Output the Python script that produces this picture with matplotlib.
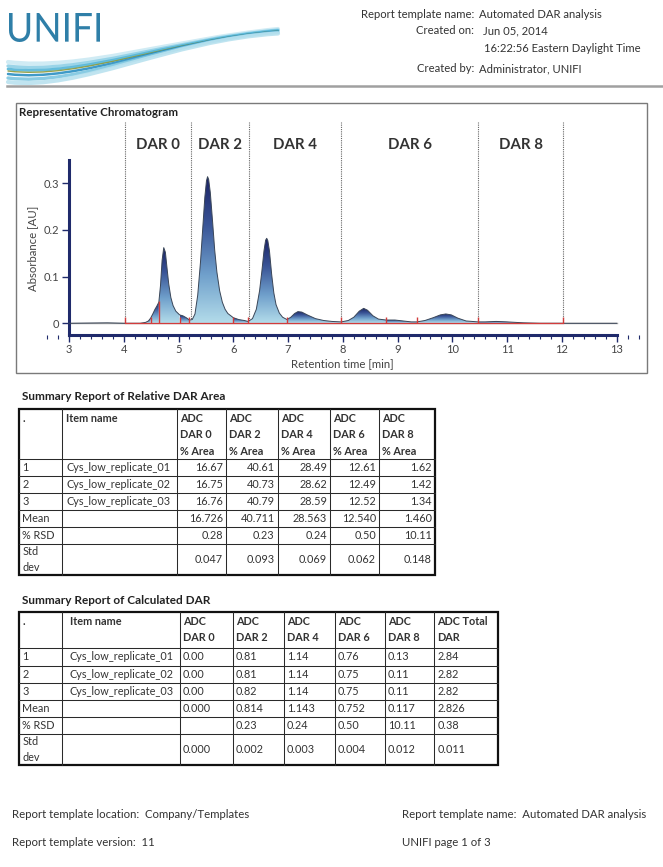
import numpy as np
import matplotlib.pyplot as plt
from matplotlib.colors import LinearSegmentedColormap
from matplotlib.patches import Rectangle, PathPatch, Polygon
from matplotlib.path import Path
from matplotlib.textpath import TextPath
from matplotlib.font_manager import FontProperties
from matplotlib.transforms import Affine2D
from matplotlib.ticker import MultipleLocator

plt.rcParams['font.family'] = ['Lato', 'DejaVu Sans']

W, H = 663, 867

# chromatogram trace (min, AU)
rt = [3.00, 3.70, 4.02, 4.30, 4.40, 4.45, 4.49, 4.53, 4.57, 4.60, 4.64, 4.67, 4.70, 4.73,
      4.76, 4.79, 4.82, 4.86, 4.90, 4.95, 5.02, 5.08, 5.14, 5.20, 5.25, 5.30, 5.35, 5.40,
      5.44, 5.48, 5.51, 5.53, 5.55, 5.58, 5.62, 5.66, 5.70, 5.75, 5.80, 5.85, 5.90, 6.00,
      6.10, 6.20, 6.27, 6.35, 6.42, 6.48, 6.52, 6.56, 6.59, 6.61, 6.63, 6.66, 6.70, 6.74,
      6.78, 6.84, 6.90, 6.98, 7.05, 7.12, 7.18, 7.25, 7.35, 7.50, 7.65, 7.80, 7.97, 8.10,
      8.20, 8.30, 8.38, 8.45, 8.55, 8.65, 8.79, 8.95, 9.10, 9.25, 9.35, 9.50, 9.65, 9.78,
      9.88, 9.98, 10.10, 10.25, 10.47, 10.60, 10.80, 11.00, 11.30, 11.60, 12.02, 13.00]
absorb = [0.000, 0.001, 0.000, 0.000, 0.002, 0.005, 0.011, 0.020, 0.030, 0.036, 0.045, 0.080,
          0.135, 0.162, 0.152, 0.118, 0.085, 0.055, 0.038, 0.026, 0.018, 0.016, 0.012, 0.007,
          0.008, 0.020, 0.060, 0.130, 0.200, 0.270, 0.305, 0.314, 0.308, 0.280, 0.220, 0.157,
          0.110, 0.070, 0.045, 0.030, 0.021, 0.012, 0.008, 0.006, 0.004, 0.010, 0.030, 0.070,
          0.110, 0.155, 0.178, 0.182, 0.177, 0.155, 0.105, 0.065, 0.040, 0.022, 0.013, 0.008,
          0.013, 0.021, 0.025, 0.024, 0.018, 0.010, 0.006, 0.004, 0.003, 0.006, 0.013, 0.026,
          0.032, 0.028, 0.016, 0.009, 0.007, 0.007, 0.005, 0.003, 0.003, 0.006, 0.012, 0.018,
          0.020, 0.018, 0.011, 0.005, 0.003, 0.003, 0.004, 0.003, 0.001, 0.000, 0.000, 0.000]

# integration marks (red) and their heights
cut_rt = [4.02, 4.49, 4.64, 5.02, 5.20, 6.00, 6.27, 6.98, 7.97, 8.79, 9.35, 10.47, 12.02]
cut_h = [0.013, 0.013, 0.048, 0.014, 0.014, 0.014, 0.013, 0.014, 0.013, 0.014, 0.013, 0.013, 0.013]

# DAR windows
dar_bounds = [4.02, 5.22, 6.28, 7.97, 10.47, 12.02]
dar_labels = ['DAR 0', 'DAR 2', 'DAR 4', 'DAR 6', 'DAR 8']

# table 1: relative DAR area
row_labels = ['1', '2', '3', 'Mean', '% RSD', 'Std\ndev']
item_names = ['Cys_low_replicate_01', 'Cys_low_replicate_02', 'Cys_low_replicate_03']
area_headers = ['ADC\nDAR 0\n% Area', 'ADC\nDAR 2\n% Area', 'ADC\nDAR 4\n% Area',
                'ADC\nDAR 6\n% Area', 'ADC\nDAR 8\n% Area']
area_dar0 = ['16.67', '16.75', '16.76', '16.726', '0.28', '0.047']
area_dar2 = ['40.61', '40.73', '40.79', '40.711', '0.23', '0.093']
area_dar4 = ['28.49', '28.62', '28.59', '28.563', '0.24', '0.069']
area_dar6 = ['12.61', '12.49', '12.52', '12.540', '0.50', '0.062']
area_dar8 = ['1.62', '1.42', '1.34', '1.460', '10.11', '0.148']

# table 2: calculated DAR
calc_headers = ['ADC\nDAR 0', 'ADC\nDAR 2', 'ADC\nDAR 4', 'ADC\nDAR 6', 'ADC\nDAR 8',
                'ADC Total\nDAR']
calc_dar0 = ['0.00', '0.00', '0.00', '0.000', '', '0.000']
calc_dar2 = ['0.81', '0.81', '0.82', '0.814', '0.23', '0.002']
calc_dar4 = ['1.14', '1.14', '1.14', '1.143', '0.24', '0.003']
calc_dar6 = ['0.76', '0.75', '0.75', '0.752', '0.50', '0.004']
calc_dar8 = ['0.13', '0.11', '0.11', '0.117', '10.11', '0.012']
calc_total = ['2.84', '2.82', '2.82', '2.826', '0.38', '0.011']

txt = '#333333'
navy = '#1f2a6b'
fs = 7.8

fig = plt.figure(figsize=(W / 100, H / 100), dpi=100)
bg = fig.add_axes([0, 0, 1, 1])
bg.set_xlim(0, W)
bg.set_ylim(H, 0)
bg.axis('off')

# ---- header: logo and report info
fp = FontProperties(family='Lato')
tp = TextPath((0, 0), 'UNIFI', size=100, prop=fp)
bb = tp.get_extents()
sx = (100 - 9) / bb.width
sy = (42 - 13) / bb.height
tr = Affine2D().translate(-bb.x0, -bb.y0).scale(sx, -sy).translate(9, 42)
bg.add_patch(PathPatch(tr.transform_path(tp), fc='#2f7fa8', ec='none'))

swoosh = [('#cbe9f3', 62, 29, 3.0), ('#8fd0e6', 66, 30, 2.4), ('#55b6d8', 69, 30.5, 2.0),
          ('#8c9a3c', 71, 31, 1.0), ('#2a8fc2', 74, 31.5, 1.8), ('#7cc6e0', 78, 32.5, 2.4),
          ('#b9e2ef', 82, 33.5, 3.0)]
for col, y0, y1, lw in swoosh:
    p = Path([(8, y0), (80, y0 + 9), (170, 40), (278, y1)],
             [Path.MOVETO, Path.CURVE4, Path.CURVE4, Path.CURVE4])
    bg.add_patch(PathPatch(p, fc='none', ec=col, lw=lw, alpha=0.9, capstyle='round'))

hdr = [('Report template name:', 'Automated DAR analysis', 15, 479),
       ('Created on:', 'Jun 05, 2014', 31, 483),
       ('', '16:22:56 Eastern Daylight Time', 49, 484),
       ('Created by:', 'Administrator, UNIFI', 69, 479)]
for lab, val, y, xv in hdr:
    bg.text(474, y, lab, ha='right', va='center', fontsize=8.1, color=txt)
    bg.text(xv, y, val, ha='left', va='center', fontsize=8.1, color=txt)
bg.plot([7, W], [86, 86], color='#a0a0a0', lw=1.8)

# ---- chromatogram
bg.add_patch(Rectangle((16, 103), 631, 270, fill=False, ec='#7a7a7a', lw=1.0))
bg.text(19, 112, 'Representative Chromatogram', fontsize=8.3, fontweight='bold',
        ha='left', va='center', color='#222222')

L, R, T, B = 40, 640, 115, 352
px_min = (616.7 - 69) / 10
px_au = 467
ax = fig.add_axes([L / W, 1 - B / H, (R - L) / W, (B - T) / H])
ax.set_facecolor('none')

rt_a = np.array(rt)
ab_a = np.array(absorb)
cmap = LinearSegmentedColormap.from_list('peak', ['#b3dcea', '#6f9fcb', '#3a5597', '#1a2163'])
grad = np.linspace(0, 1, 256).reshape(-1, 1)
for a, b in zip(cut_rt[:-1], cut_rt[1:]):
    m = (rt_a >= a) & (rt_a <= b)
    ts, ys = rt_a[m], ab_a[m]
    top = ys.max()
    if top <= 0:
        continue
    poly = Polygon([(a, 0)] + list(zip(ts, ys)) + [(b, 0)], closed=True,
                   fc='none', ec='none')
    ax.add_patch(poly)
    im = ax.imshow(grad, extent=[a, b, 0, top], origin='lower', aspect='auto',
                   cmap=cmap, interpolation='bilinear', zorder=2)
    im.set_clip_path(poly)

ax.plot([3, 13], [0, 0], color='#a8a8a8', lw=1.0, zorder=1)
ax.plot(rt, absorb, color='#3a4658', lw=0.7, zorder=3)
ax.plot([cut_rt[0], cut_rt[-1]], [0, 0], color='#d23c3c', lw=0.9, zorder=4)
ax.vlines(cut_rt, 0, cut_h, color='#d23c3c', lw=1.0, zorder=4)
ax.vlines(dar_bounds, 0, 0.432, color='#666666', lw=0.8, linestyles=(0, (1, 1)), zorder=1)
for lab, a, b in zip(dar_labels, dar_bounds[:-1], dar_bounds[1:]):
    ax.text((a + b) / 2, 0.382, lab, ha='center', va='center', fontsize=10.8,
            fontweight='bold', color='#333333')

ax.set_xlim(3 - (69 - L) / px_min, 13 + (R - 616.7) / px_min)
ax.set_ylim(-(B - 323.3) / px_au, (323.3 - T) / px_au)
for s in ['top', 'right']:
    ax.spines[s].set_visible(False)
ax.spines['left'].set_position(('data', 3.0))
ax.spines['left'].set_bounds(-0.024, 0.35)
ax.spines['bottom'].set_position(('data', -0.024))
ax.spines['bottom'].set_bounds(3, 13)
for s in ['left', 'bottom']:
    ax.spines[s].set_color(navy)
    ax.spines[s].set_linewidth(2.2)
ax.set_xticks(range(3, 14))
ax.xaxis.set_minor_locator(MultipleLocator(0.2))
ax.set_yticks([0, 0.1, 0.2, 0.3])
ax.set_yticklabels(['0', '0.1', '0.2', '0.3'])
ax.tick_params(which='major', length=5, width=1, color=navy, labelsize=8,
               labelcolor='#444444', pad=2)
ax.tick_params(which='minor', length=3, width=0.8, color=navy)
ax.tick_params(axis='y', which='minor', left=False)
ax.set_xlabel('Retention time [min]', fontsize=8.2, color='#444444')
ax.set_ylabel('Absorbance [AU]', fontsize=8.2, color='#444444')
ax.xaxis.set_label_coords((342 - L) / (R - L), (B - 358) / (B - T))
ax.yaxis.set_label_coords((38 - L) / (R - L), (B - 248) / (B - T))


# ---- tables
def draw_table(xs, ys, headers, cols, right_align, name_x, title, title_y):
    bg.text(21.5, title_y, title, fontsize=8.5, fontweight='bold', ha='left',
            va='center', color='#222222')
    for x in xs[1:-1]:
        bg.plot([x, x], [ys[0], ys[-1]], color='#2a2a2a', lw=0.75)
    for y in ys[1:-1]:
        bg.plot([xs[0], xs[-1]], [y, y], color='#2a2a2a', lw=0.75)
    bg.add_patch(Rectangle((xs[0], ys[0]), xs[-1] - xs[0], ys[-1] - ys[0],
                           fill=False, ec='#111111', lw=1.6))
    hy = ys[0] + 4
    bg.text(xs[0] + 3, hy, '.', fontsize=fs, fontweight='bold', va='top', color=txt)
    bg.text(name_x, hy, 'Item name', fontsize=fs, fontweight='bold', va='top', color=txt)
    for j, h in enumerate(headers):
        bg.text(xs[j + 2] + 3, hy, h, fontsize=fs, fontweight='bold', va='top',
                color=txt, linespacing=1.57)
    for i, lab in enumerate(row_labels):
        yc = (ys[i + 1] + ys[i + 2]) / 2
        bg.text(xs[0] + 3, yc, lab, fontsize=fs, va='center', color=txt, linespacing=1.6)
        if i < len(item_names):
            bg.text(name_x, yc, item_names[i], fontsize=fs, va='center', color=txt)
        for j, c in enumerate(cols):
            if right_align:
                bg.text(xs[j + 3] - 3, yc, c[i], fontsize=fs, va='center', ha='right', color=txt)
            else:
                bg.text(xs[j + 2] + 3, yc, c[i], fontsize=fs, va='center', ha='left', color=txt)


draw_table([19.3, 61.7, 176.7, 226, 277.7, 330, 379, 435],
           [409.3, 459, 476, 493.3, 510, 526.7, 544, 575],
           area_headers, [area_dar0, area_dar2, area_dar4, area_dar6, area_dar8],
           True, 66.5, 'Summary Report of Relative DAR Area', 396.5)
draw_table([19.3, 61.7, 180, 232.7, 284, 335, 385, 434.3, 498.3],
           [612.3, 648.3, 665.7, 682.7, 700, 716.7, 734, 765],
           calc_headers, [calc_dar0, calc_dar2, calc_dar4, calc_dar6, calc_dar8, calc_total],
           False, 70, 'Summary Report of Calculated DAR', 600)

# ---- footer
bg.text(12.5, 814, 'Report template location:  Company/Templates', fontsize=8.2,
        va='center', color=txt)
bg.text(12.5, 842, 'Report template version:  11', fontsize=8.2, va='center', color=txt)
bg.text(401.5, 815, 'Report template name:  Automated DAR analysis', fontsize=8.2,
        va='center', color=txt)
bg.text(401.5, 842, 'UNIFI page 1 of 3', fontsize=8.2, va='center', color=txt)

fig.savefig('out.png', dpi=100)
